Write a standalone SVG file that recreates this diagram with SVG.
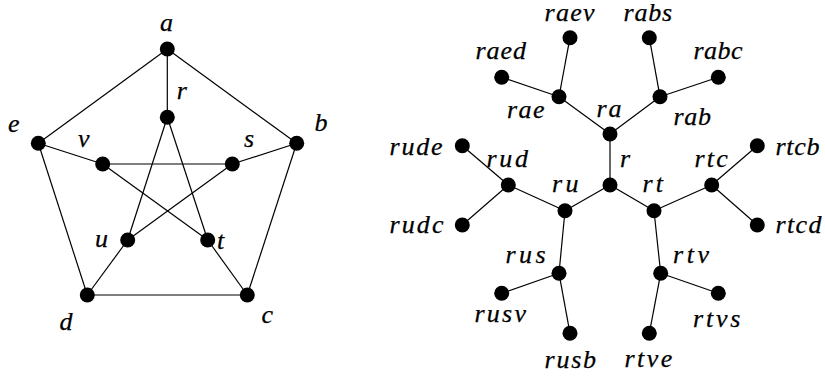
<svg xmlns="http://www.w3.org/2000/svg" width="825" height="377" viewBox="0 0 825 377">
<style>
.e line{stroke:#000;stroke-width:1.2;}
.n circle{fill:#000;}
.n text{font-family:"Liberation Serif","Times New Roman",serif;font-style:italic;font-size:26px;fill:#000;stroke:#000;stroke-width:0.25;}
</style>
<rect width="825" height="377" fill="#fff"/>
<g id="connectors" class="e">
<line x1="167.3" y1="49" x2="167.3" y2="117.3"/>
<line x1="167.3" y1="49" x2="38.3" y2="143.3"/>
<line x1="167.3" y1="49" x2="296.7" y2="143.3"/>
<line x1="38.3" y1="143.3" x2="102.7" y2="164"/>
<line x1="38.3" y1="143.3" x2="87.3" y2="295"/>
<line x1="296.7" y1="143.3" x2="232.3" y2="164"/>
<line x1="296.7" y1="143.3" x2="247.3" y2="295"/>
<line x1="87.3" y1="295" x2="247.3" y2="295"/>
<line x1="87.3" y1="295" x2="127.7" y2="240"/>
<line x1="247.3" y1="295" x2="207.7" y2="240"/>
<line x1="167.3" y1="117.3" x2="127.7" y2="240"/>
<line x1="167.3" y1="117.3" x2="207.7" y2="240"/>
<line x1="102.7" y1="164" x2="232.3" y2="164"/>
<line x1="102.7" y1="164" x2="207.7" y2="240"/>
<line x1="232.3" y1="164" x2="127.7" y2="240"/>
<line x1="610" y1="134" x2="610" y2="185"/>
<line x1="610" y1="134" x2="559" y2="96.7"/>
<line x1="610" y1="134" x2="660" y2="96.7"/>
<line x1="559" y1="96.7" x2="501.7" y2="77.3"/>
<line x1="559" y1="96.7" x2="570" y2="37.7"/>
<line x1="660" y1="96.7" x2="649.3" y2="37.7"/>
<line x1="660" y1="96.7" x2="718.3" y2="77.3"/>
<line x1="610" y1="185" x2="565" y2="210.7"/>
<line x1="610" y1="185" x2="654" y2="210.7"/>
<line x1="565" y1="210.7" x2="508.3" y2="185"/>
<line x1="565" y1="210.7" x2="559" y2="273.3"/>
<line x1="508.3" y1="185" x2="462.3" y2="145.7"/>
<line x1="508.3" y1="185" x2="462.3" y2="225"/>
<line x1="559" y1="273.3" x2="501.7" y2="293.3"/>
<line x1="559" y1="273.3" x2="570" y2="333.3"/>
<line x1="654" y1="210.7" x2="711.7" y2="185"/>
<line x1="654" y1="210.7" x2="660.7" y2="273.3"/>
<line x1="711.7" y1="185" x2="757.3" y2="145.7"/>
<line x1="711.7" y1="185" x2="757.3" y2="225"/>
<line x1="660.7" y1="273.3" x2="718.3" y2="293.3"/>
<line x1="660.7" y1="273.3" x2="649.3" y2="333.3"/>
</g>
<g id="n-a" class="n"><circle cx="167.3" cy="49" r="7.5"/><text x="160" y="30.7">a</text></g>
<g id="n-r" class="n"><circle cx="167.3" cy="117.3" r="7.5"/><text x="176.7" y="99.3">r</text></g>
<g id="n-e" class="n"><circle cx="38.3" cy="143.3" r="7.5"/><text x="8" y="131.7">e</text></g>
<g id="n-b" class="n"><circle cx="296.7" cy="143.3" r="7.5"/><text x="314.5" y="131">b</text></g>
<g id="n-v" class="n"><circle cx="102.7" cy="164" r="7.5"/><text x="78" y="146.7">v</text></g>
<g id="n-s" class="n"><circle cx="232.3" cy="164" r="7.5"/><text x="244" y="146.7">s</text></g>
<g id="n-u" class="n"><circle cx="127.7" cy="240" r="7.5"/><text x="95" y="246.7">u</text></g>
<g id="n-t" class="n"><circle cx="207.7" cy="240" r="7.5"/><text x="217" y="249.3">t</text></g>
<g id="n-d" class="n"><circle cx="87.3" cy="295" r="7.5"/><text x="59.5" y="330">d</text></g>
<g id="n-c" class="n"><circle cx="247.3" cy="295" r="7.5"/><text x="261.5" y="322.7">c</text></g>

<g id="t-raev" class="n"><circle cx="570" cy="37.7" r="7.5"/><text x="544.5" y="21" textLength="50" lengthAdjust="spacing">raev</text></g>
<g id="t-rabs" class="n"><circle cx="649.3" cy="37.7" r="7.5"/><text x="623.5" y="21" textLength="48.5" lengthAdjust="spacing">rabs</text></g>
<g id="t-raed" class="n"><circle cx="501.7" cy="77.3" r="7.5"/><text x="475.5" y="59.3" textLength="50.5" lengthAdjust="spacing">raed</text></g>
<g id="t-rabc" class="n"><circle cx="718.3" cy="77.3" r="7.5"/><text x="693.5" y="59.3" textLength="49" lengthAdjust="spacing">rabc</text></g>
<g id="t-rae" class="n"><circle cx="559" cy="96.7" r="7.5"/><text x="507" y="118.3" textLength="37.5" lengthAdjust="spacing">rae</text></g>
<g id="t-rab" class="n"><circle cx="660" cy="96.7" r="7.5"/><text x="673.5" y="125" textLength="37.5" lengthAdjust="spacing">rab</text></g>
<g id="t-ra" class="n"><circle cx="610" cy="134" r="7.5"/><text x="596.5" y="116.7" textLength="25" lengthAdjust="spacing">ra</text></g>
<g id="t-r" class="n"><circle cx="610" cy="185" r="7.5"/><text x="620" y="166.7">r</text></g>
<g id="t-rude" class="n"><circle cx="462.3" cy="145.7" r="7.5"/><text x="389.5" y="155" textLength="53" lengthAdjust="spacing">rude</text></g>
<g id="t-rud" class="n"><circle cx="508.3" cy="185" r="7.5"/><text x="486.5" y="166.7" textLength="41.5" lengthAdjust="spacing">rud</text></g>
<g id="t-rudc" class="n"><circle cx="462.3" cy="225" r="7.5"/><text x="389.5" y="233.3" textLength="54" lengthAdjust="spacing">rudc</text></g>
<g id="t-ru" class="n"><circle cx="565" cy="210.7" r="7.5"/><text x="552" y="191.7" textLength="26.5" lengthAdjust="spacing">ru</text></g>
<g id="t-rus" class="n"><circle cx="559" cy="273.3" r="7.5"/><text x="505.5" y="263.3" textLength="40" lengthAdjust="spacing">rus</text></g>
<g id="t-rusv" class="n"><circle cx="501.7" cy="293.3" r="7.5"/><text x="474.5" y="321.7" textLength="51.5" lengthAdjust="spacing">rusv</text></g>
<g id="t-rusb" class="n"><circle cx="570" cy="333.3" r="7.5"/><text x="544.5" y="368.3" textLength="51.5" lengthAdjust="spacing">rusb</text></g>
<g id="t-rt" class="n"><circle cx="654" cy="210.7" r="7.5"/><text x="642.5" y="191.7" textLength="20.5" lengthAdjust="spacing">rt</text></g>
<g id="t-rtc" class="n"><circle cx="711.7" cy="185" r="7.5"/><text x="694.5" y="166.7" textLength="33.3" lengthAdjust="spacing">rtc</text></g>
<g id="t-rtcb" class="n"><circle cx="757.3" cy="145.7" r="7.5"/><text x="775.5" y="155" textLength="44" lengthAdjust="spacing">rtcb</text></g>
<g id="t-rtcd" class="n"><circle cx="757.3" cy="225" r="7.5"/><text x="775.5" y="233.3" textLength="46" lengthAdjust="spacing">rtcd</text></g>
<g id="t-rtv" class="n"><circle cx="660.7" cy="273.3" r="7.5"/><text x="673" y="263.3" textLength="36" lengthAdjust="spacing">rtv</text></g>
<g id="t-rtvs" class="n"><circle cx="718.3" cy="293.3" r="7.5"/><text x="693" y="326.7" textLength="47.4" lengthAdjust="spacing">rtvs</text></g>
<g id="t-rtve" class="n"><circle cx="649.3" cy="333.3" r="7.5"/><text x="624.5" y="366.7" textLength="47.7" lengthAdjust="spacing">rtve</text></g>
</svg>
